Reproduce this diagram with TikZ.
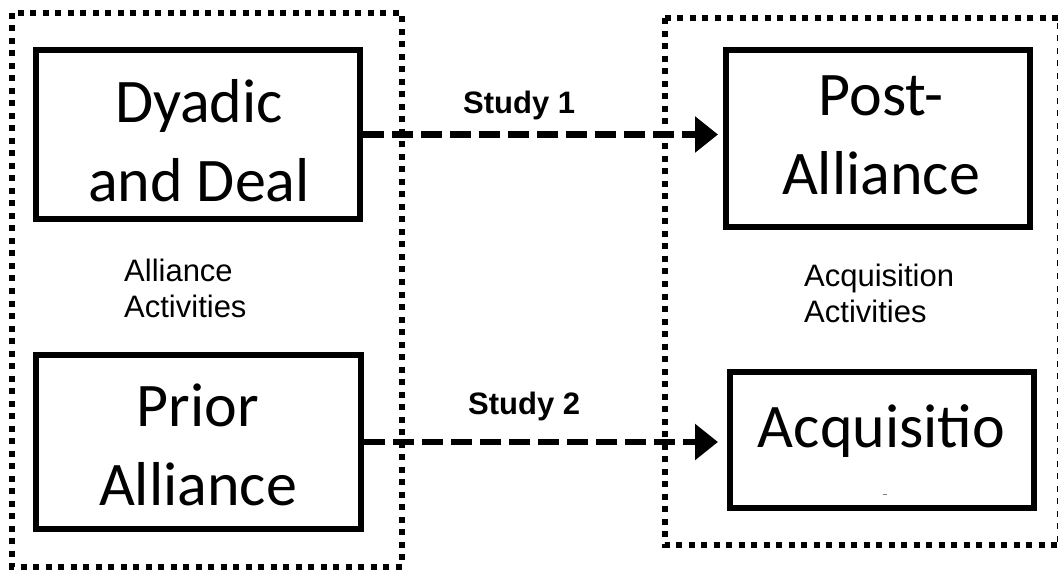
\documentclass[tikz,border=0pt]{standalone}
\usepackage{fontspec}
\setmainfont{Carlito}
\newfontfamily\arialf{Liberation Sans}
\usetikzlibrary{arrows.meta}
\tikzset{
  group/.style={line width=6pt, dash pattern=on 6pt off 6.5pt, line cap=butt},
  bigbox/.style={draw, line width=6pt, inner sep=0pt, font=\fontsize{62}{79}\selectfont, align=center},
  boxtext/.style={inner sep=0pt, font=\fontsize{62}{79}\selectfont, align=center, anchor=base},
  grouplabel/.style={inner sep=0pt, font=\arialf\fontsize{31}{35.5}\selectfont, align=left, anchor=base west},
  studylabel/.style={inner sep=0pt, font=\arialf\bfseries\fontsize{31}{36}\selectfont, anchor=base west},
  studyarrow/.style={line width=6.5pt, dash pattern=on 21pt off 8pt, -{Triangle[length=23pt,width=35pt]}}
}
\begin{document}
\begin{tikzpicture}[x=1pt,y=-1pt]
\useasboundingbox[fill=white] (0,0) rectangle (1058,572);
% group frames
\draw[group] (11.5,13) rectangle (401.5,566.5);
\draw[group] (665,18.5) rectangle (1060,545);
% boxes
\node[bigbox, minimum width=324pt, minimum height=169pt] (dyadic) at (198,134.5) {};
\node[bigbox, minimum width=325pt, minimum height=174pt] (prior) at (198.5,442) {};
\node[bigbox, minimum width=304pt, minimum height=177pt] (post) at (878,138.5) {};
\node[bigbox, minimum width=304pt, minimum height=136pt] (acq) at (882,440) {};
% box texts (base anchor = last line baseline)
\node[boxtext] (dyadicT) at (199,202) {Dyadic\\and Deal};
\node[boxtext] (priorT) at (198,505) {Prior\\Alliance};
\node[boxtext] (postT) at (881,195) {Post-\\Alliance};
\node[boxtext] (acqT) at (881.5,447) {Acquisitio};
\draw[gray, line width=0.8pt] (acq.center) ++(1,54) coordinate (dashA) -- ++(4,0) coordinate (dashB);
% group labels
\node[grouplabel] (allianceL) at (124,317) {Alliance\\Activities};
\node[grouplabel] (acqL) at (804,322) {Acquisition\\Activities};
% study arrows
\draw[studyarrow, shorten >=5pt] (dyadic.east) -- (post.west |- dyadic.east);
\draw[studyarrow, shorten >=9pt] (prior.east) -- (acq.west |- prior.east);
\node[studylabel] (s1) at (463,114) {Study 1};
\node[studylabel] (s2) at (468,414) {Study 2};
\end{tikzpicture}
\end{document}
